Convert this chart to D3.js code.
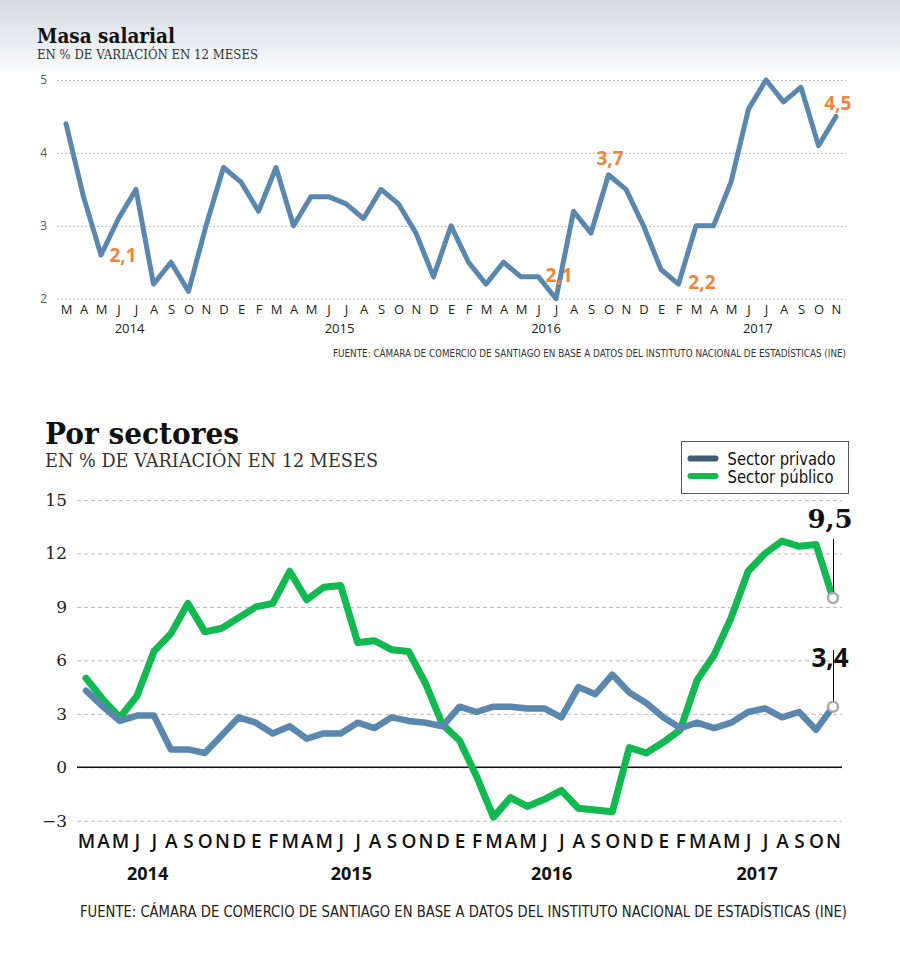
<!DOCTYPE html>
<html>
<head>
<meta charset="utf-8">
<script src="https://cdn.jsdelivr.net/npm/d3@7"></script>
<style>
  body { margin: 0; background: #fff; }
  svg { display: block; }
</style>
</head>
<body>
<div id="chart"></div>
<script>
// month labels, Mar 2014 .. Nov 2017
const months = [
  "M","A","M","J","J","A","S","O","N","D",
  "E","F","M","A","M","J","J","A","S","O","N","D",
  "E","F","M","A","M","J","J","A","S","O","N","D",
  "E","F","M","A","M","J","J","A","S","O","N"
];
const years = ["2014", "2015", "2016", "2017"];

// masa salarial, % var 12 meses
const masaSalarial = [
  4.4, 3.4, 2.6, 3.1, 3.5, 2.2, 2.5, 2.1, 3.0, 3.8,
  3.6, 3.2, 3.8, 3.0, 3.4, 3.4, 3.3, 3.1, 3.5, 3.3, 2.9, 2.3,
  3.0, 2.5, 2.2, 2.5, 2.3, 2.3, 2.0, 3.2, 2.9, 3.7, 3.5, 3.0,
  2.4, 2.2, 3.0, 3.0, 3.6, 4.6, 5.0, 4.7, 4.9, 4.1, 4.5
];

// por sectores
const sectorPrivado = [
  4.3, 3.4, 2.6, 2.9, 2.9, 1.0, 1.0, 0.8, 1.8, 2.8,
  2.5, 1.9, 2.3, 1.6, 1.9, 1.9, 2.5, 2.2, 2.8, 2.6, 2.5, 2.3,
  3.4, 3.1, 3.4, 3.4, 3.3, 3.3, 2.8, 4.5, 4.1, 5.2, 4.2, 3.6,
  2.8, 2.2, 2.5, 2.2, 2.5, 3.1, 3.3, 2.8, 3.1, 2.1, 3.4
];
const sectorPublico = [
  5.0, 3.8, 2.8, 4.0, 6.5, 7.5, 9.2, 7.6, 7.8, 8.4,
  9.0, 9.2, 11.0, 9.4, 10.1, 10.2, 7.0, 7.1, 6.6, 6.5, 4.7, 2.4,
  1.5, -0.5, -2.8, -1.7, -2.2, -1.8, -1.3, -2.3, -2.4, -2.5, 1.1, 0.8,
  1.4, 2.1, 4.9, 6.3, 8.4, 11.0, 12.0, 12.7, 12.4, 12.5, 9.5
];

const topTicks = [2, 3, 4, 5];
const bottomTicks = [-3, 0, 3, 6, 9, 12, 15];

// year labels sit under the middle of each year (fractional month index)
const yearIndex = [3.6, 15.6, 27.4, 39.5];

// highlighted values on the upper chart (index, value where the label sits)
const topNotes = [
  { i: 3.26, v: 2.5, t: "2,1" },
  { i: 28.17, v: 2.23, t: "2,1" },
  { i: 31.09, v: 3.83, t: "3,7" },
  { i: 36.34, v: 2.13, t: "2,2" },
  { i: 44.1, v: 4.59, t: "4,5" }
];

const fuente = "FUENTE: CÁMARA DE COMERCIO DE SANTIAGO EN BASE A DATOS DEL INSTITUTO NACIONAL DE ESTADÍSTICAS (INE)";

const blue = "#5a87ae";
const green = "#12b951";
const orange = "#f0843a";
const serif = "'DejaVu Serif', 'Liberation Serif', serif";
const sans = "'Open Sans', 'Noto Sans', sans-serif";
const narrow = "'Liberation Sans Narrow', 'DejaVu Sans Condensed', 'Liberation Sans', sans-serif";

const width = 900;
const height = 965;

const svg = d3.select("#chart")
  .append("svg")
  .attr("width", width)
  .attr("height", height);

// header gradient
const defs = svg.append("defs");
const grad = defs.append("linearGradient")
  .attr("id", "hdr")
  .attr("x1", 0).attr("y1", 0).attr("x2", 0).attr("y2", 1);
grad.append("stop").attr("offset", "0%").attr("stop-color", "#d4dae1");
grad.append("stop").attr("offset", "100%").attr("stop-color", "#fafbfc");
svg.append("rect")
  .attr("x", 0).attr("y", 0)
  .attr("width", width).attr("height", 72)
  .attr("fill", "url(#hdr)");

// ---------- top chart: masa salarial ----------
svg.append("text")
  .attr("x", 37).attr("y", 43)
  .attr("font-family", serif).attr("font-weight", "bold")
  .attr("font-size", 21)
  .attr("textLength", 138).attr("lengthAdjust", "spacingAndGlyphs")
  .attr("fill", "#111")
  .text("Masa salarial");

svg.append("text")
  .attr("x", 37).attr("y", 59)
  .attr("font-family", serif).attr("font-size", 13)
  .attr("textLength", 221).attr("lengthAdjust", "spacingAndGlyphs")
  .attr("fill", "#333")
  .text("EN % DE VARIACIÓN EN 12 MESES");

const x1 = d3.scaleLinear().domain([0, months.length - 1]).range([66, 836]);
const y1 = d3.scaleLinear().domain([2, 5]).range([298.7, 80]);

const gy1 = svg.append("g")
  .attr("transform", "translate(57,0)")
  .call(d3.axisLeft(y1).tickValues(topTicks).tickSize(-(846 - 57)).tickPadding(10).tickFormat(d3.format("d")));
gy1.select(".domain").remove();
gy1.selectAll("line")
  .attr("stroke", "#bbb").attr("stroke-dasharray", "2,2");
gy1.selectAll("text")
  .attr("font-family", sans).attr("font-size", 12)
  .attr("fill", "#4d5e55");

const gx1 = svg.append("g")
  .attr("transform", "translate(0,305)")
  .call(d3.axisBottom(x1).tickValues(d3.range(months.length)).tickSize(0).tickPadding(0).tickFormat(i => months[i]));
gx1.select(".domain").remove();
gx1.selectAll("text")
  .attr("font-family", sans).attr("font-size", 13)
  .attr("fill", "#222");

const gyr1 = svg.append("g")
  .attr("transform", "translate(0,324)")
  .call(d3.axisBottom(x1).tickValues(yearIndex).tickSize(0).tickPadding(0).tickFormat((d, i) => years[i]));
gyr1.select(".domain").remove();
gyr1.selectAll("text")
  .attr("font-family", sans).attr("font-size", 13)
  .attr("fill", "#222");

const line1 = d3.line()
  .x((d, i) => x1(i))
  .y(d => y1(d));

svg.append("path")
  .datum(masaSalarial)
  .attr("d", line1)
  .attr("fill", "none")
  .attr("stroke", blue)
  .attr("stroke-width", 5)
  .attr("stroke-linejoin", "round")
  .attr("stroke-linecap", "round");

svg.selectAll(".topnote")
  .data(topNotes)
  .enter()
  .append("text")
  .attr("class", "topnote")
  .attr("x", d => x1(d.i))
  .attr("y", d => y1(d.v))
  .attr("text-anchor", "middle")
  .attr("font-family", sans).attr("font-weight", "bold")
  .attr("font-size", 19)
  .attr("fill", orange)
  .text(d => d.t);

svg.append("text")
  .attr("x", 333).attr("y", 357)
  .attr("font-family", narrow).attr("font-size", 10)
  .attr("textLength", 513).attr("lengthAdjust", "spacingAndGlyphs")
  .attr("fill", "#333")
  .text(fuente);

// ---------- bottom chart: por sectores ----------
svg.append("text")
  .attr("x", 45).attr("y", 444)
  .attr("font-family", serif).attr("font-weight", "bold")
  .attr("font-size", 29)
  .attr("textLength", 194).attr("lengthAdjust", "spacingAndGlyphs")
  .attr("fill", "#111")
  .text("Por sectores");

svg.append("text")
  .attr("x", 45).attr("y", 467)
  .attr("font-family", serif).attr("font-size", 18)
  .attr("textLength", 333).attr("lengthAdjust", "spacingAndGlyphs")
  .attr("fill", "#333")
  .text("EN % DE VARIACIÓN EN 12 MESES");

const x2 = d3.scaleLinear().domain([0, months.length - 1]).range([86, 833]);
const y2 = d3.scaleLinear().domain([-3, 15]).range([820.7, 500]);

const gy2 = svg.append("g")
  .attr("transform", "translate(77,0)")
  .call(d3.axisLeft(y2).tickValues(bottomTicks).tickSize(-(842 - 77)).tickPadding(10).tickFormat(d => d < 0 ? "\u2212" + Math.abs(d) : d));
gy2.select(".domain").remove();
gy2.selectAll("line")
  .attr("stroke", "#bbb").attr("stroke-dasharray", "4,3");
gy2.selectAll("text")
  .attr("font-family", serif).attr("font-size", 17)
  .attr("fill", "#222");

// zero line
svg.append("line")
  .attr("x1", 77).attr("x2", 842)
  .attr("y1", y2(0)).attr("y2", y2(0))
  .attr("stroke", "#111").attr("stroke-width", 1.5);

const gx2 = svg.append("g")
  .attr("transform", "translate(0,834)")
  .call(d3.axisBottom(x2).tickValues(d3.range(months.length)).tickSize(0).tickPadding(0).tickFormat(i => months[i]));
gx2.select(".domain").remove();
gx2.selectAll("text")
  .attr("font-family", sans).attr("font-size", 19).attr("font-weight", 600)
  .attr("fill", "#111");

const gyr2 = svg.append("g")
  .attr("transform", "translate(0,867)")
  .call(d3.axisBottom(x2).tickValues(yearIndex).tickSize(0).tickPadding(0).tickFormat((d, i) => years[i]));
gyr2.select(".domain").remove();
gyr2.selectAll("text")
  .attr("font-family", sans).attr("font-size", 18).attr("font-weight", "bold")
  .attr("fill", "#111");

const line2 = d3.line()
  .x((d, i) => x2(i))
  .y(d => y2(d));

svg.append("path")
  .datum(sectorPublico)
  .attr("d", line2)
  .attr("fill", "none")
  .attr("stroke", green)
  .attr("stroke-width", 7)
  .attr("stroke-linejoin", "round")
  .attr("stroke-linecap", "round");

svg.append("path")
  .datum(sectorPrivado)
  .attr("d", line2)
  .attr("fill", "none")
  .attr("stroke", blue)
  .attr("stroke-width", 6.5)
  .attr("stroke-linejoin", "round")
  .attr("stroke-linecap", "round");

// end value labels
const last = months.length - 1;
const lx = Math.round(x2(last)) + 0.5;
const ends = [
  { v: sectorPublico[last], font: serif, top: 539, ly: 528 },
  { v: sectorPrivado[last], font: sans, top: 650, ly: 667 }
];

ends.forEach(e => {
  svg.append("line")
    .attr("x1", lx).attr("x2", lx)
    .attr("y1", e.top).attr("y2", y2(e.v) - 5)
    .attr("stroke", "#000").attr("stroke-width", 1);
  svg.append("circle")
    .attr("cx", x2(last)).attr("cy", y2(e.v))
    .attr("r", 5)
    .attr("fill", "#fff")
    .attr("stroke", "#aaa").attr("stroke-width", 2.5);
  svg.append("text")
    .attr("x", x2(last) - 3).attr("y", e.ly)
    .attr("text-anchor", "middle")
    .attr("font-family", e.font).attr("font-weight", "bold")
    .attr("font-size", 26)
    .attr("fill", "#111")
    .text(d3.format(".1f")(e.v).replace(".", ","));
});

// legend
const legendItems = [
  { name: "Sector privado", color: "#3e5d70" },
  { name: "Sector público", color: green }
];
const legend = svg.append("g").attr("transform", "translate(681.5,441.5)");
legend.append("rect")
  .attr("width", 167).attr("height", 52)
  .attr("fill", "#fff")
  .attr("stroke", "#555").attr("stroke-width", 1);
legend.selectAll(".item")
  .data(legendItems)
  .enter()
  .append("line")
  .attr("x1", 9).attr("x2", 34)
  .attr("y1", (d, i) => 17 + i * 17.5).attr("y2", (d, i) => 17 + i * 17.5)
  .attr("stroke", d => d.color)
  .attr("stroke-width", 6)
  .attr("stroke-linecap", "round");
legend.selectAll(".lbl")
  .data(legendItems)
  .enter()
  .append("text")
  .attr("x", 46)
  .attr("y", (d, i) => 23 + i * 18.5)
  .attr("font-family", narrow).attr("font-size", 17)
  .attr("textLength", (d, i) => i === 0 ? 108 : 106).attr("lengthAdjust", "spacingAndGlyphs")
  .attr("fill", "#111")
  .text(d => d.name);

svg.append("text")
  .attr("x", 80).attr("y", 917)
  .attr("font-family", narrow).attr("font-size", 15)
  .attr("textLength", 767).attr("lengthAdjust", "spacingAndGlyphs")
  .attr("fill", "#222")
  .text(fuente);
</script>
</body>
</html>
